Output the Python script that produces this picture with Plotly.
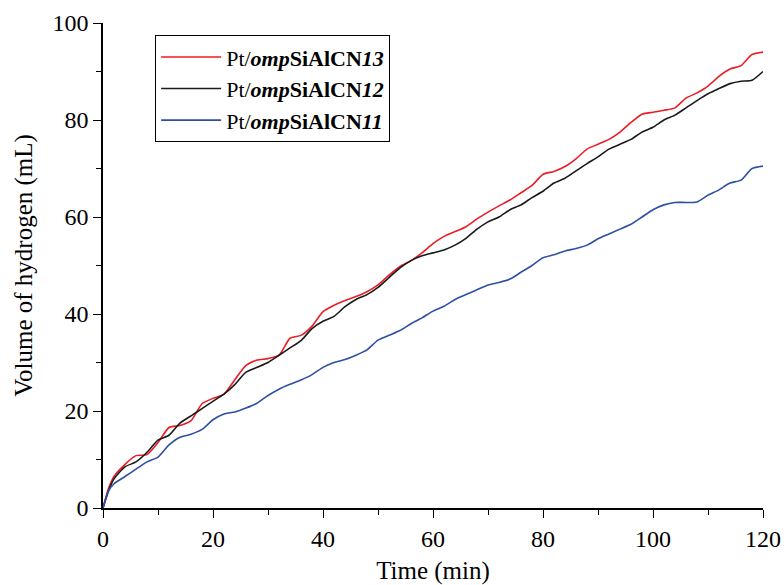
import plotly.graph_objects as go

time = [0, 1, 2, 4, 6, 8, 10, 12, 14, 16, 18, 20, 22, 24, 26, 28, 30, 32, 34, 36, 38, 40,
        42, 44, 46, 48, 50, 52, 54, 56, 58, 60, 62, 64, 66, 68, 70, 72, 74, 76, 78, 80,
        82, 84, 86, 88, 90, 92, 94, 96, 98, 100, 102, 104, 106, 108, 110, 112, 114, 116, 118, 120]

vol_13 = [0, 4, 6.5, 9, 10.8, 11, 13.5, 16.6, 17, 18, 21.5, 22.6, 23.5, 26.5, 29.4, 30.5, 30.8, 31.5, 35, 35.6, 37.5, 40.5,
          41.8, 42.8, 43.6, 44.6, 46, 48, 49.8, 51, 52.6, 54.5, 56, 57, 58, 59.6, 61, 62.3, 63.5, 65, 66.5, 68.8,
          69.4, 70.4, 72, 74, 75, 76, 77.5, 79.5, 81.2, 81.6, 82, 82.5, 84.5, 85.6, 87, 89, 90.5, 91.2, 93.5, 94]

vol_12 = [0, 3.5, 6, 8.5, 9.5, 11.5, 14, 15, 17.5, 19, 20.5, 22, 23.5, 25.5, 28, 29, 30, 31.5, 33, 34.5, 37, 38.5,
          39.5, 41.5, 43, 44, 45.5, 47.5, 49.5, 51, 52, 52.6, 53.2, 54.2, 55.6, 57.5, 59, 60, 61.5, 62.5, 64, 65.3,
          67, 68, 69.5, 71, 72.4, 74, 75, 76, 77.5, 78.5, 80, 81, 82.5, 84, 85.4, 86.5, 87.5, 88, 88.2, 90]

vol_11 = [0, 3.5, 5, 6.5, 8, 9.5, 10.5, 13, 14.6, 15.2, 16.2, 18.2, 19.4, 19.8, 20.6, 21.6, 23.2, 24.5, 25.5, 26.4, 27.5, 29,
          30, 30.6, 31.5, 32.6, 34.6, 35.6, 36.6, 38, 39.2, 40.6, 41.6, 43, 44, 45, 46, 46.5, 47.2, 48.6, 50, 51.6,
          52.2, 53, 53.5, 54.2, 55.5, 56.5, 57.5, 58.5, 60, 61.5, 62.5, 63, 63, 63.1, 64.5, 65.6, 67, 67.6, 70, 70.5]

labels = ["Pt/<b><i>omp</i>SiAlCN<i>13</i></b>",
          "Pt/<b><i>omp</i>SiAlCN<i>12</i></b>",
          "Pt/<b><i>omp</i>SiAlCN<i>11</i></b>"]
colors = ["#ec1c24", "#1a1a1a", "#2e4fa3"]

fig = go.Figure()
for ys, name, c in zip([vol_13, vol_12, vol_11], labels, colors):
    fig.add_trace(go.Scatter(x=time, y=ys, mode="lines", name=name,
                             line=dict(color=c, width=1.6, shape="spline", smoothing=0.6)))

font = "Liberation Serif, Times New Roman, serif"
axis_common = dict(showline=True, linecolor="black", linewidth=1.5, mirror=False,
                   ticks="outside", ticklen=8, tickwidth=1.3, tickcolor="black",
                   showgrid=False, zeroline=False, automargin=False,
                   tickfont=dict(family=font, size=24, color="black"))

fig.update_xaxes(range=[0, 120], dtick=20, tick0=0,
                 minor=dict(dtick=10, ticks="outside", ticklen=5, tickwidth=1.3, tickcolor="black"),
                 title=dict(text="Time (min)", font=dict(family=font, size=25, color="black"), standoff=11),
                 **axis_common)
fig.update_yaxes(range=[0, 100], dtick=20, tick0=0,
                 minor=dict(dtick=10, ticks="outside", ticklen=5, tickwidth=1.3, tickcolor="black"),
                 title=dict(text="Volume of hydrogen (mL)", font=dict(family=font, size=25, color="black"), standoff=13),
                 **axis_common)

fig.update_layout(
    width=784, height=585,
    margin=dict(l=103, r=21, t=23, b=77),
    plot_bgcolor="white", paper_bgcolor="white",
    font=dict(family=font, color="black"),
    legend=dict(x=0.079, y=0.975, xanchor="left", yanchor="top",
                bgcolor="white", bordercolor="black", borderwidth=1,
                font=dict(family=font, size=22, color="black"),
                tracegroupgap=0, itemwidth=60),
)

# remove the browser's default 8px body margin so the figure fills the window exactly
fig.write_html("out.html",
               config={"displayModeBar": False},
               post_script="document.body.style.margin='0';document.body.style.overflow='hidden';")
